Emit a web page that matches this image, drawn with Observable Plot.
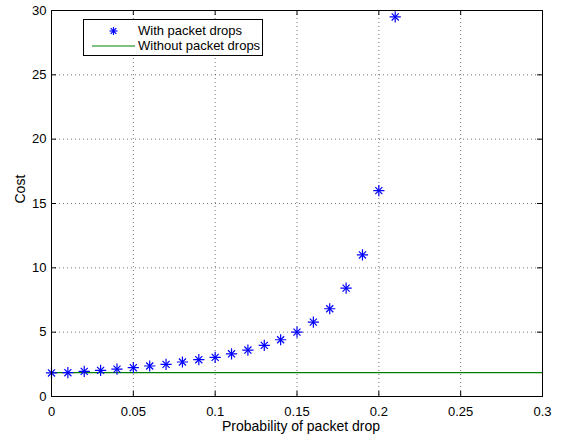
<!DOCTYPE html>
<html>
<head>
<meta charset="utf-8">
<script src="https://cdn.jsdelivr.net/npm/d3@7"></script>
<script src="https://cdn.jsdelivr.net/npm/@observablehq/plot@0.6"></script>
<style>
  html, body { margin: 0; padding: 0; background: #fff; }
  #wrap { position: relative; width: 561px; height: 436px; font-family: "Liberation Sans", Arial, sans-serif; }
  #legend { position: absolute; left: 83px; top: 19px; width: 180px; height: 37px; border: 1.3px solid #000; background: #fff; box-sizing: border-box; font-size: 13px; overflow: hidden; }
  #legend .row { position: absolute; left: 0; height: 15px; line-height: 15px; white-space: nowrap; }
  #legend svg { position: absolute; left: 0; top: 0; }
  #legend .lbl { position: absolute; left: 54px; }
</style>
</head>
<body>
<div id="wrap"></div>
<script>
// Data
const probability = [0, 0.01, 0.02, 0.03, 0.04, 0.05, 0.06, 0.07, 0.08, 0.09, 0.10, 0.11, 0.12, 0.13, 0.14, 0.15, 0.16, 0.17, 0.18, 0.19, 0.20, 0.21];
const costWithDrops = [1.83, 1.85, 1.95, 2.03, 2.13, 2.24, 2.37, 2.50, 2.68, 2.86, 3.04, 3.32, 3.61, 3.97, 4.41, 5.0, 5.78, 6.82, 8.42, 11.0, 16.0, 29.5];
const costWithoutDrops = 1.85;
const xTicks = [0, 0.05, 0.1, 0.15, 0.2, 0.25, 0.3];
const yTicks = [0, 5, 10, 15, 20, 25, 30];
const seriesNames = ["With packet drops", "Without packet drops"];
const xLabel = "Probability of packet drop";
const yLabel = "Cost";

const points = probability.map((p, i) => ({p, cost: costWithDrops[i]}));
const W = 561, H = 436, mL = 51, mR = 19, mT = 10, mB = 40;
const plotW = W - mL - mR, plotH = H - mT - mB;
const tickLen = 5;
const font = "Liberation Sans, Arial, sans-serif";

const chart = Plot.plot({
  width: W,
  height: H,
  marginLeft: mL,
  marginRight: mR,
  marginTop: mT,
  marginBottom: mB,
  style: {fontFamily: font, fontSize: "13px", color: "#000", background: "#fff"},
  x: {domain: [0, 0.3]},
  y: {domain: [0, 30]},
  marks: [
    Plot.gridX(xTicks, {stroke: "#000", strokeOpacity: 0.55, strokeDasharray: "1,3"}),
    Plot.gridY(yTicks, {stroke: "#000", strokeOpacity: 0.55, strokeDasharray: "1,3"}),
    Plot.ruleY([costWithoutDrops], {stroke: "#008000", strokeWidth: 1.2}),
    Plot.dot(points, {x: "p", y: "cost", symbol: "plus", r: 3.7, stroke: "#0000ff", strokeWidth: 1.2}),
    Plot.dot(points, {x: "p", y: "cost", symbol: "times", r: 3.3, stroke: "#0000ff", strokeWidth: 1.2}),
    Plot.tickX(xTicks, {x: d => d, insetTop: plotH - tickLen, stroke: "#000"}),
    Plot.tickX(xTicks, {x: d => d, insetBottom: plotH - tickLen, stroke: "#000"}),
    Plot.tickY(yTicks, {y: d => d, insetRight: plotW - tickLen, stroke: "#000"}),
    Plot.tickY(yTicks, {y: d => d, insetLeft: plotW - tickLen, stroke: "#000"}),
    Plot.frame({stroke: "#000", strokeWidth: 1}),
    Plot.axisX(xTicks, {tickSize: 0, tickPadding: 10, tickFormat: d => String(d), fontSize: 13, label: null}),
    Plot.axisY(yTicks, {tickSize: 0, tickPadding: 5, tickFormat: d => String(d), fontSize: 13, label: null}),
    Plot.text([xLabel], {text: d => d, frameAnchor: "bottom", dx: 4, dy: 30, fontSize: 14, lineAnchor: "middle"}),
    Plot.text([yLabel], {text: d => d, frameAnchor: "left", rotate: -90, dx: -31, fontSize: 14, lineAnchor: "middle"})
  ]
});

const wrap = document.getElementById("wrap");
wrap.appendChild(chart);

// Legend (inside the axes, top-left)
const legend = document.createElement("div");
legend.id = "legend";
legend.innerHTML = `
  <svg width="54" height="36">
    <g stroke="#0000ff" stroke-width="1.2">
      <line x1="29.5" y1="7" x2="29.5" y2="15"/>
      <line x1="25.5" y1="11" x2="33.5" y2="11"/>
      <line x1="26.7" y1="8.2" x2="32.3" y2="13.8"/>
      <line x1="26.7" y1="13.8" x2="32.3" y2="8.2"/>
    </g>
    <line x1="8" y1="26" x2="51" y2="26" stroke="#008000" stroke-width="1.2"/>
  </svg>
  <div class="row" style="top:3px"><span class="lbl">${seriesNames[0]}</span></div>
  <div class="row" style="top:18px"><span class="lbl">${seriesNames[1]}</span></div>
`;
wrap.appendChild(legend);
</script>
</body>
</html>
